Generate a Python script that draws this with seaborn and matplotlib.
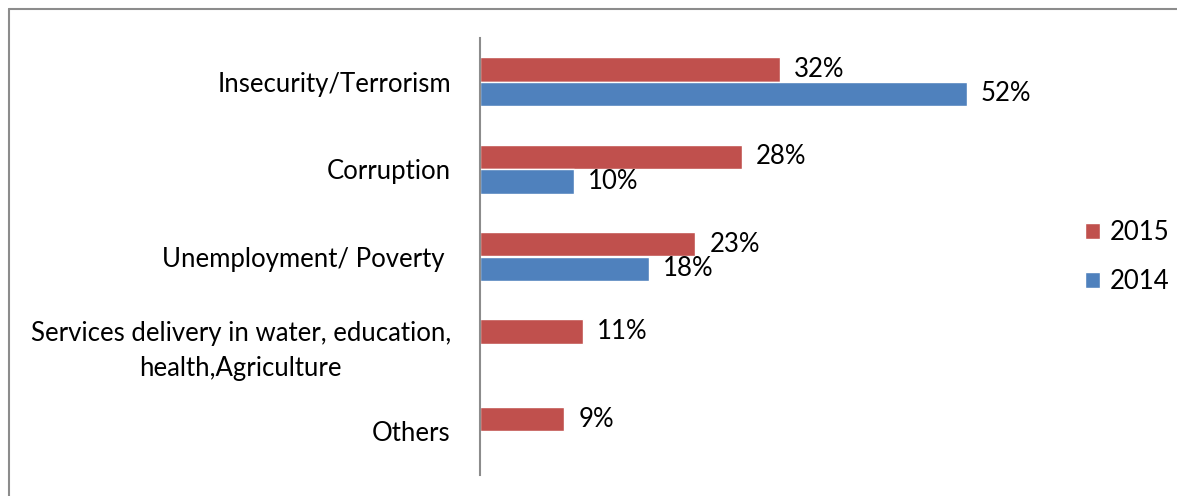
import numpy as np
import pandas as pd
import seaborn as sns
import matplotlib
matplotlib.use("Agg")
import matplotlib.pyplot as plt
from matplotlib.lines import Line2D

categories = [
    "Insecurity/Terrorism",
    "Corruption",
    "Unemployment/ Poverty ",
    "Services delivery in water, education,\nhealth,Agriculture",
    "Others",
]
years = ["2015", "2014"]
values_2015 = [32, 28, 23, 11, 9]
values_2014 = [52, 10, 18, np.nan, np.nan]
colors = {"2015": "#C0504D", "2014": "#4F81BD"}

df = pd.DataFrame({
    "category": categories * 2,
    "year": ["2015"] * len(categories) + ["2014"] * len(categories),
    "value": values_2015 + values_2014,
})

sns.set_theme(style="white")
plt.rcParams["font.family"] = ["Lato", "DejaVu Sans"]

FS = 18.5
W, H = 1177, 496
fig = plt.figure(figsize=(W / 100, H / 100), dpi=100)
ax = fig.add_axes([480 / W, (H - 475) / H, 580 / W, 437 / H])

sns.barplot(
    data=df, y="category", x="value", hue="year",
    order=categories, hue_order=years, palette=colors,
    orient="h", width=0.56, saturation=1, ax=ax, errorbar=None,
)

for container in ax.containers:
    ax.bar_label(container,
                 labels=[f"{v:.0f}%" if not np.isnan(v) else "" for v in container.datavalues],
                 padding=10, fontsize=FS, color="black")

ax.set_xlim(0, 580 / 9.365)
ax.set_xlabel("")
ax.set_ylabel("")
ax.set_xticks([])
ax.tick_params(axis="y", length=0, pad=21, labelsize=FS, labelcolor="black")
for lbl in ax.get_yticklabels():
    lbl.set_multialignment("center")
    lbl.set_linespacing(1.5)

for side in ["top", "right", "bottom"]:
    ax.spines[side].set_visible(False)
ax.spines["left"].set_color("#8C8C8C")
ax.spines["left"].set_linewidth(1.5)

leg = ax.legend(
    loc="center left", bbox_to_anchor=(1085 / W, (H - 257) / H),
    bbox_transform=fig.transFigure, frameon=False, fontsize=FS,
    handlelength=0.6, handleheight=0.6, handletextpad=0.35, labelspacing=0.95,
    borderpad=0, borderaxespad=0,
)
for t in leg.get_texts():
    t.set_color("black")

# outer frame of the chart area
frame_kw = dict(color="#8C8C8C", linewidth=1.5, transform=fig.transFigure)
fig.add_artist(Line2D([9 / W, 1.0], [1 - 9 / H, 1 - 9 / H], **frame_kw))
fig.add_artist(Line2D([9 / W, 9 / W], [0.0, 1 - 9 / H], **frame_kw))

fig.savefig("out.png", dpi=100, facecolor="white")
